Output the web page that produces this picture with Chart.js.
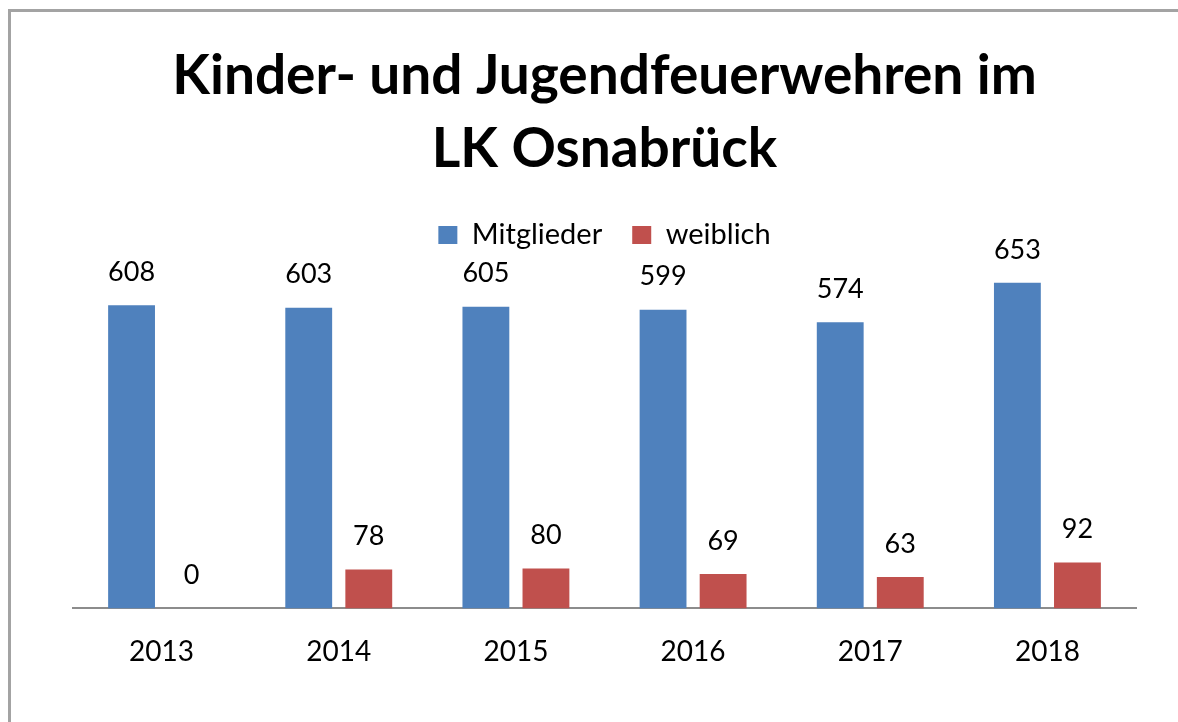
<!DOCTYPE html>
<html>
<head>
<meta charset="utf-8">
<script src="https://cdn.jsdelivr.net/npm/chart.js@4/dist/chart.umd.min.js"></script>
<style>
  html, body { margin: 0; padding: 0; background: #fff; overflow: hidden; }
  #frame { position: absolute; left: 8px; top: 9px; width: 2000px; height: 2000px;
           border-left: 3px solid #a3a3a3; border-top: 3px solid #a3a3a3; }
  #wrap { position: absolute; left: 0; top: 0; width: 1178px; height: 722px; }
</style>
</head>
<body>
<div id="frame"></div>
<div id="wrap"><canvas id="chart"></canvas></div>
<script>
const years = ['2013', '2014', '2015', '2016', '2017', '2018'];
const mitglieder = [608, 603, 605, 599, 574, 653];
const weiblich = [0, 78, 80, 69, 63, 92];
const titleLines = ['Kinder- und Jugendfeuerwehren im', 'LK Osnabrück'];

const FONT = 'Lato, "Open Sans", sans-serif';

// value labels above each bar
const valueLabels = {
    id: 'valueLabels',
    afterDatasetsDraw(chart) {
        const ctx = chart.ctx;
        ctx.save();
        ctx.font = '27px ' + FONT;
        ctx.fillStyle = '#000';
        ctx.textAlign = 'center';
        ctx.textBaseline = 'middle';
        chart.data.datasets.forEach((ds, i) => {
            chart.getDatasetMeta(i).data.forEach((bar, j) => {
                ctx.fillText(String(ds.data[j]), bar.x, bar.y - 33);
            });
        });
        ctx.restore();
    }
};

const ctx = document.getElementById('chart').getContext('2d');
new Chart(ctx, {
    type: 'bar',
    data: {
        labels: years,
        datasets: [{
            label: 'Mitglieder',
            data: mitglieder,
            backgroundColor: '#4f81bd'
        }, {
            label: 'weiblich',
            data: weiblich,
            backgroundColor: '#c0504d'
        }]
    },
    options: {
        responsive: true,
        maintainAspectRatio: false,
        animation: false,
        categoryPercentage: 0.678,
        barPercentage: 0.78,
        layout: {
            padding: { left: 73, right: 42, top: 18, bottom: 34 }
        },
        plugins: {
            title: {
                display: true,
                text: titleLines,
                color: '#000',
                font: { family: FONT, size: 55, weight: 'bold', lineHeight: 1.34 },
                padding: { top: 21, bottom: 4 }
            },
            legend: {
                display: true,
                labels: {
                    color: '#000',
                    font: { family: FONT, size: 29 },
                    boxWidth: 19,
                    boxHeight: 18,
                    padding: 30
                }
            },
            tooltip: { enabled: false }
        },
        scales: {
            x: {
                grid: { display: false },
                border: { display: true, color: '#8c8c8c', width: 2 },
                ticks: {
                    color: '#000',
                    font: { family: FONT, size: 28 },
                    padding: 19
                }
            },
            y: {
                display: false,
                min: 0,
                max: 700
            }
        }
    },
    plugins: [valueLabels]
});
</script>
</body>
</html>
